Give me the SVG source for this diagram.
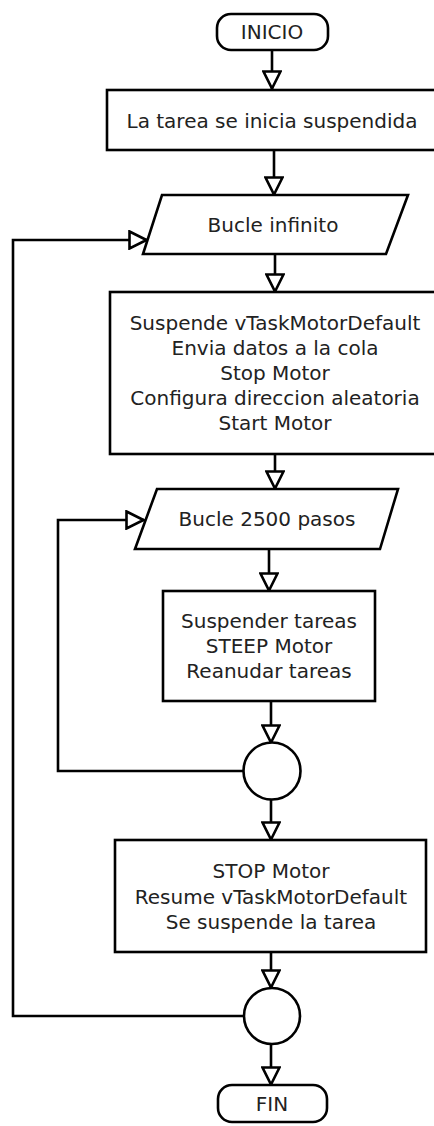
<svg xmlns="http://www.w3.org/2000/svg" width="434" height="1126" viewBox="0 0 434 1126">
  <style>
    .shape { fill: #ffffff; stroke: #000000; stroke-width: 2.6; }
    .wire { fill: none; stroke: #000000; stroke-width: 2.6; }
    text { font-family: "DejaVu Sans", "Liberation Sans", sans-serif; font-size: 20px; fill: #222222; text-anchor: middle; }
  </style>
  <defs>
    <marker id="open-arrow" viewBox="0 0 20 20" markerWidth="20" markerHeight="20" markerUnits="userSpaceOnUse" refX="19" refY="10" orient="auto">
      <path d="M1.5,1.5 L18.5,10 L1.5,18.5 Z" fill="#ffffff" stroke="#000000" stroke-width="2.6" stroke-linejoin="miter"/>
    </marker>
  </defs>
  <rect width="434" height="1126" fill="#ffffff"/>

  <!-- connectors -->
  <g id="connectors" class="wire" marker-end="url(#open-arrow)">
    <path d="M272,50 V89"/>
    <path d="M274,150 V195"/>
    <path d="M275,254 V292"/>
    <path d="M275,454 V489"/>
    <path d="M269,549 V591"/>
    <path d="M271,701 V743"/>
    <path d="M271,800 V840"/>
    <path d="M271,952 V988"/>
    <path d="M271,1044 V1085"/>
    <path d="M243,1016 H13 V240 H147"/>
    <path d="M243,771 H58 V520 H144"/>
  </g>

  <!-- start -->
  <g id="inicio">
    <rect class="shape" x="217" y="14" width="111" height="36" rx="14" ry="14"/>
    <text x="272" y="39">INICIO</text>
  </g>

  <g id="tarea-suspendida">
    <rect class="shape" x="107" y="90" width="340" height="60"/>
    <text x="272" y="128">La tarea se inicia suspendida</text>
  </g>

  <g id="bucle-infinito">
    <polygon class="shape" points="162,195 408,195 386,254 143,254"/>
    <text x="273" y="232">Bucle infinito</text>
  </g>

  <g id="preparar-motor">
    <rect class="shape" x="110" y="292" width="340" height="162"/>
    <text x="275" y="330">Suspende vTaskMotorDefault</text>
    <text x="275" y="355">Envia datos a la cola</text>
    <text x="275" y="380">Stop Motor</text>
    <text x="275" y="405">Configura direccion aleatoria</text>
    <text x="275" y="430">Start Motor</text>
  </g>

  <g id="bucle-pasos">
    <polygon class="shape" points="157,489 398,489 380,549 135,549"/>
    <text x="267" y="526">Bucle 2500 pasos</text>
  </g>

  <g id="paso-motor">
    <rect class="shape" x="163" y="591" width="212" height="110"/>
    <text x="269" y="628">Suspender tareas</text>
    <text x="269" y="653">STEEP Motor</text>
    <text x="269" y="678">Reanudar tareas</text>
  </g>

  <g id="fin-bucle-pasos">
    <circle class="shape" cx="272" cy="771" r="28.5"/>
  </g>

  <g id="parar-motor">
    <rect class="shape" x="115" y="840" width="311" height="112"/>
    <text x="271" y="878">STOP Motor</text>
    <text x="271" y="904">Resume vTaskMotorDefault</text>
    <text x="271" y="929">Se suspende la tarea</text>
  </g>

  <g id="fin-bucle-infinito">
    <circle class="shape" cx="272" cy="1016" r="28"/>
  </g>

  <!-- end -->
  <g id="fin">
    <rect class="shape" x="218" y="1085" width="109" height="37" rx="14" ry="14"/>
    <text x="272" y="1111">FIN</text>
  </g>
</svg>
